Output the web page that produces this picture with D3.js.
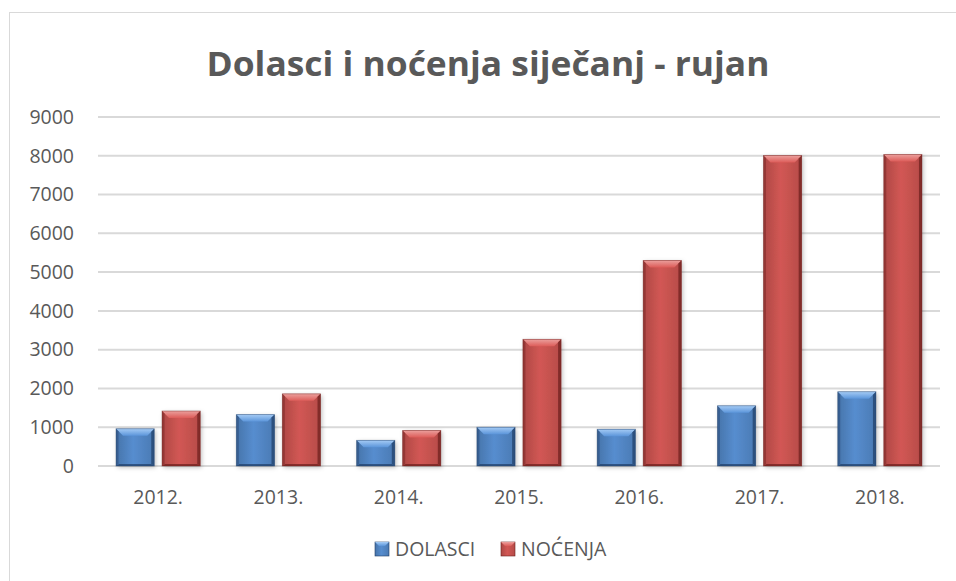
<!DOCTYPE html>
<html>
<head>
<meta charset="utf-8">
<script src="https://cdn.jsdelivr.net/npm/d3@7"></script>
<style>
  body { margin: 0; background: #fff; }
  text { font-family: "Open Sans", sans-serif; fill: #595959; }
</style>
</head>
<body>
<div id="chart"></div>
<script>
const years = ["2012.", "2013.", "2014.", "2015.", "2016.", "2017.", "2018."];
const seriesNames = ["DOLASCI", "NOĆENJA"];
const dolasci = [960, 1325, 662, 1000, 948, 1553, 1915];
const nocenja = [1418, 1860, 917, 3267, 5302, 8007, 8033];
const yTicks = [0, 1000, 2000, 3000, 4000, 5000, 6000, 7000, 8000, 9000];
const colors = ["#4f81bd", "#c0504d"];
const darks = ["#1f3d66", "#6b1e1c"];
const lights = ["#a5cbf5", "#eba09d"];

function drawChart() {
    const W = 956, H = 581;
    const margin = {top: 117, right: 16, bottom: 115, left: 98},
        width = W - margin.left - margin.right,
        height = H - margin.top - margin.bottom;

    const svg = d3.select("#chart").append("svg")
        .attr("width", W).attr("height", H);

    const defs = svg.append("defs");
    colors.forEach((c, i) => {
        const g = defs.append("linearGradient").attr("id", "body" + i)
            .attr("x1", 0).attr("x2", 1).attr("y1", 0).attr("y2", 0);
        g.append("stop").attr("offset", "0%").attr("stop-color", d3.color(c).darker(0.3));
        g.append("stop").attr("offset", "45%").attr("stop-color", d3.color(c).brighter(0.25));
        g.append("stop").attr("offset", "100%").attr("stop-color", d3.color(c).darker(0.15));
        const t = defs.append("linearGradient").attr("id", "top" + i)
            .attr("x1", 0).attr("x2", 0).attr("y1", 0).attr("y2", 1);
        t.append("stop").attr("offset", "0%").attr("stop-color", lights[i]);
        t.append("stop").attr("offset", "100%").attr("stop-color", d3.color(c).brighter(0.4));
    });
    const f = defs.append("filter").attr("id", "shadow")
        .attr("x", "-20%").attr("y", "-10%").attr("width", "150%").attr("height", "130%");
    f.append("feDropShadow").attr("dx", 1.5).attr("dy", 1.5).attr("stdDeviation", 2)
        .attr("flood-color", "#000").attr("flood-opacity", 0.25);

    // chart frame
    svg.append("rect")
        .attr("x", 9.5).attr("y", 12.5).attr("width", 980).attr("height", 620)
        .attr("fill", "none").attr("stroke", "#d9d9d9");

    const g = svg.append("g").attr("transform", `translate(${margin.left},${margin.top})`);

    const x0 = d3.scaleBand().domain(years).range([0, width])
        .paddingInner(0.3).paddingOuter(0.15);
    const x1 = d3.scaleBand().domain([0, 1]).range([0, x0.bandwidth()])
        .paddingInner(0.17).paddingOuter(0);
    const y = d3.scaleLinear().domain([0, 9000]).range([height, 0]);

    // gridlines
    g.append("g").selectAll("line").data(yTicks).enter().append("line")
        .attr("x1", 0).attr("x2", width)
        .attr("y1", d => y(d)).attr("y2", d => y(d))
        .attr("stroke", "#d9d9d9").attr("stroke-width", 2);

    // y labels
    g.append("g").selectAll("text").data(yTicks).enter().append("text")
        .attr("x", -24).attr("y", d => y(d)).attr("dy", "0.35em")
        .attr("text-anchor", "end").style("font-size", "19.5px")
        .text(d => d);

    // x labels
    g.append("g").selectAll("text").data(years).enter().append("text")
        .attr("x", d => x0(d) + x0.bandwidth() / 2).attr("y", height + 38)
        .attr("text-anchor", "middle").style("font-size", "19.5px")
        .text(d => d);

    // bars
    const data = [];
    years.forEach((yr, k) => {
        [dolasci[k], nocenja[k]].forEach((v, i) => data.push({yr, i, v}));
    });
    const bw = x1.bandwidth();
    const bars = g.append("g").selectAll("g").data(data).enter().append("g")
        .attr("transform", d => `translate(${x0(d.yr) + x1(d.i)},0)`);
    bars.append("rect")
        .attr("x", 0).attr("y", d => y(d.v))
        .attr("width", bw).attr("height", d => y(0) - y(d.v))
        .attr("fill", d => `url(#body${d.i})`)
        .attr("filter", "url(#shadow)");
    // bevel: top
    const bev = 7;
    bars.append("polygon")
        .attr("points", d => {
            const t = y(d.v);
            return [[0, t], [bw, t], [bw - bev, t + bev], [bev, t + bev]].join(" ");
        })
        .attr("fill", d => `url(#top${d.i})`);
    // bevel: sides
    bars.append("polygon")
        .attr("points", d => {
            const t = y(d.v), b = y(0);
            return [[0, t], [2.5, t + 2.5], [2.5, b - 2], [0, b]].join(" ");
        })
        .attr("fill", d => darks[d.i]).attr("opacity", 0.4);
    bars.append("polygon")
        .attr("points", d => {
            const t = y(d.v), b = y(0);
            return [[bw, t], [bw - 3, t + 3], [bw - 3, b - 2], [bw, b]].join(" ");
        })
        .attr("fill", d => darks[d.i]).attr("opacity", 0.7);
    bars.append("polygon")
        .attr("points", d => {
            const b = y(0);
            return [[0, b], [3, b - 2], [bw - 3, b - 2], [bw, b]].join(" ");
        })
        .attr("fill", d => darks[d.i]).attr("opacity", 0.7);
    bars.append("rect")
        .attr("x", 0).attr("y", d => y(d.v))
        .attr("width", bw).attr("height", d => y(0) - y(d.v))
        .attr("fill", "none").attr("stroke", d => darks[d.i])
        .attr("stroke-opacity", 0.5).attr("stroke-width", 0.8);

    // title
    svg.append("text")
        .attr("x", 488).attr("y", 76)
        .attr("text-anchor", "middle")
        .attr("textLength", 563).attr("lengthAdjust", "spacingAndGlyphs")
        .style("font-size", "34px").style("font-weight", "bold")
        .text("Dolasci i noćenja siječanj - rujan");

    // legend
    const legend = svg.append("g").attr("transform", "translate(375,542)");
    const items = [{x: 0, i: 0}, {x: 126, i: 1}];
    items.forEach(it => {
        const lg = legend.append("g").attr("transform", `translate(${it.x},0)`);
        lg.append("rect").attr("width", 14).attr("height", 14)
            .attr("fill", `url(#body${it.i})`).attr("stroke", darks[it.i]).attr("stroke-width", 0.6);
        lg.append("polygon").attr("points", "0,0 14,0 10,4 4,4")
            .attr("fill", `url(#top${it.i})`);
        lg.append("text").attr("x", 20).attr("y", 7).attr("dy", "0.35em")
            .style("font-size", "19.5px").text(seriesNames[it.i]);
    });
}

drawChart();
</script>
</body>
</html>
